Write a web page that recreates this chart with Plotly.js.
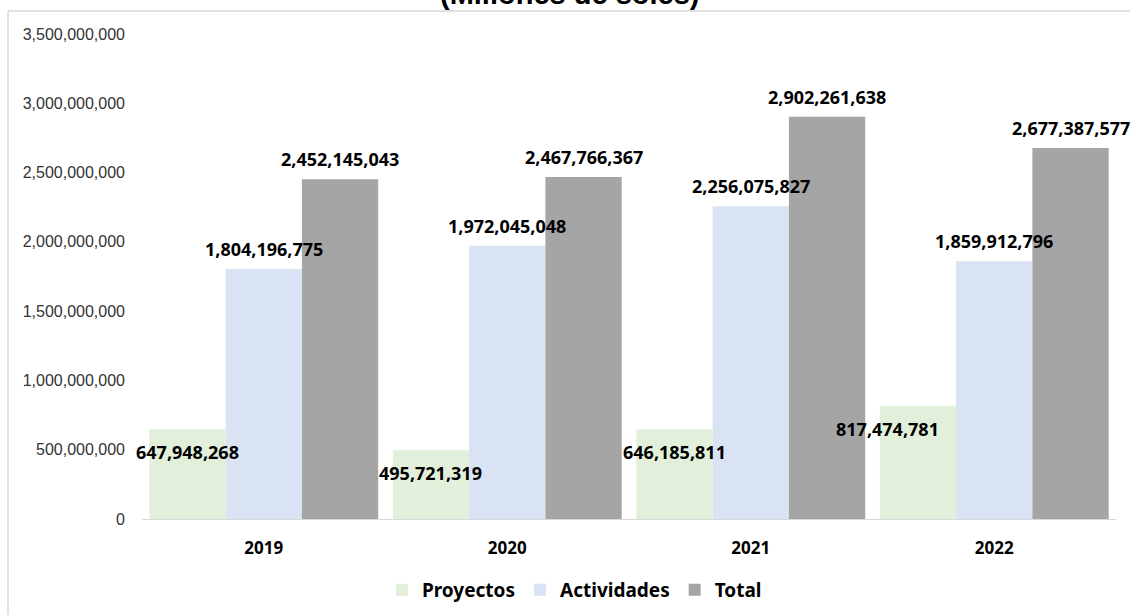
<!DOCTYPE html>
<html>
<head>
<meta charset="utf-8">
<script src="https://cdn.plot.ly/plotly-3.0.1.min.js"></script>
<style>
  html, body { margin: 0; padding: 0; background: #ffffff; }
  #chart { width: 1130px; height: 615px; }
</style>
</head>
<body>
<div id="chart"></div>
<script>
// ---- data ----
const years = ['2019', '2020', '2021', '2022'];
const seriesNames = ['Proyectos', 'Actividades', 'Total'];
const proyectos = [647948268, 495721319, 646185811, 817474781];
const actividades = [1804196775, 1972045048, 2256075827, 1859912796];
const total = [2452145043, 2467766367, 2902261638, 2677387577];
const titleText = '(Millones de soles)';

// ---- style ----
const colors = ['#e2efda', '#dae3f3', '#a5a5a5'];
const barShift = [-76.3, 0, 76.3];
const labelFont = { family: 'Noto Sans, Open Sans, sans-serif', size: 18, color: '#000000', weight: 'bold' };

const values = [proyectos, actividades, total];
const traces = seriesNames.map((name, i) => ({
  type: 'bar',
  name: name,
  x: years,
  y: values[i],
  marker: { color: colors[i], line: { width: 0 } },
  hoverinfo: 'skip'
}));

const fmt = v => v.toLocaleString('en-US');
const annotations = [];
values.forEach((arr, i) => {
  arr.forEach((v, j) => {
    let xs = barShift[i];
    let ys = 20;
    if (i === 0) {
      ys = -23;
      if (j === 3) xs -= 30;
    }
    annotations.push({
      x: j, y: v, xref: 'x', yref: 'y',
      text: fmt(v), showarrow: false,
      xanchor: 'center', yanchor: 'middle',
      xshift: xs, yshift: ys,
      font: labelFont
    });
  });
});
annotations.push({
  x: 0.4394, y: 1, xref: 'paper', yref: 'paper',
  xanchor: 'center', yanchor: 'bottom', yshift: 22,
  text: '<b>' + titleText + '</b>', showarrow: false,
  font: { family: 'Liberation Sans, Arial, sans-serif', size: 29, color: '#000000' }
});

const frameX = (8 - 142) / 974;
const frameY = (519 - 11) / 485;

const layout = {
  width: 1130, height: 615,
  margin: { l: 142, r: 14, t: 34, b: 96, pad: 0, autoexpand: false },
  paper_bgcolor: '#ffffff', plot_bgcolor: '#ffffff',
  barmode: 'group', bargap: 0.06, bargroupgap: 0,
  showlegend: true,
  legend: {
    orientation: 'h', x: 0.444, xanchor: 'center', y: -0.146, yanchor: 'middle',
    font: { family: 'Noto Sans, Open Sans, sans-serif', size: 19, color: '#000000', weight: 'bold' },
    traceorder: 'normal'
  },
  xaxis: {
    type: 'category', range: [-0.5, 3.5], autorange: false,
    showgrid: false, zeroline: false,
    showline: true, linecolor: '#d9d9d9', linewidth: 1,
    ticks: '', ticklabelstandoff: 14,
    tickfont: { family: 'Noto Sans, Open Sans, sans-serif', size: 17, color: '#000000', weight: 'bold' }
  },
  yaxis: {
    range: [0, 3500000000], autorange: false, dtick: 500000000, tick0: 0,
    tickformat: ',d', showgrid: false, zeroline: false, showline: false,
    ticks: '', ticklabelstandoff: 16,
    tickfont: { family: 'Liberation Sans, Arial, sans-serif', size: 16, color: '#333333' }
  },
  annotations: annotations,
  shapes: [
    { type: 'line', xref: 'paper', yref: 'paper', x0: frameX, x1: 1.2, y0: frameY, y1: frameY,
      line: { color: '#d9d9d9', width: 1.5 } },
    { type: 'line', xref: 'paper', yref: 'paper', x0: frameX, x1: frameX, y0: frameY, y1: -0.3,
      line: { color: '#d9d9d9', width: 1.5 } }
  ]
};

Plotly.newPlot('chart', traces, layout, { displayModeBar: false, staticPlot: true });
</script>
</body>
</html>
